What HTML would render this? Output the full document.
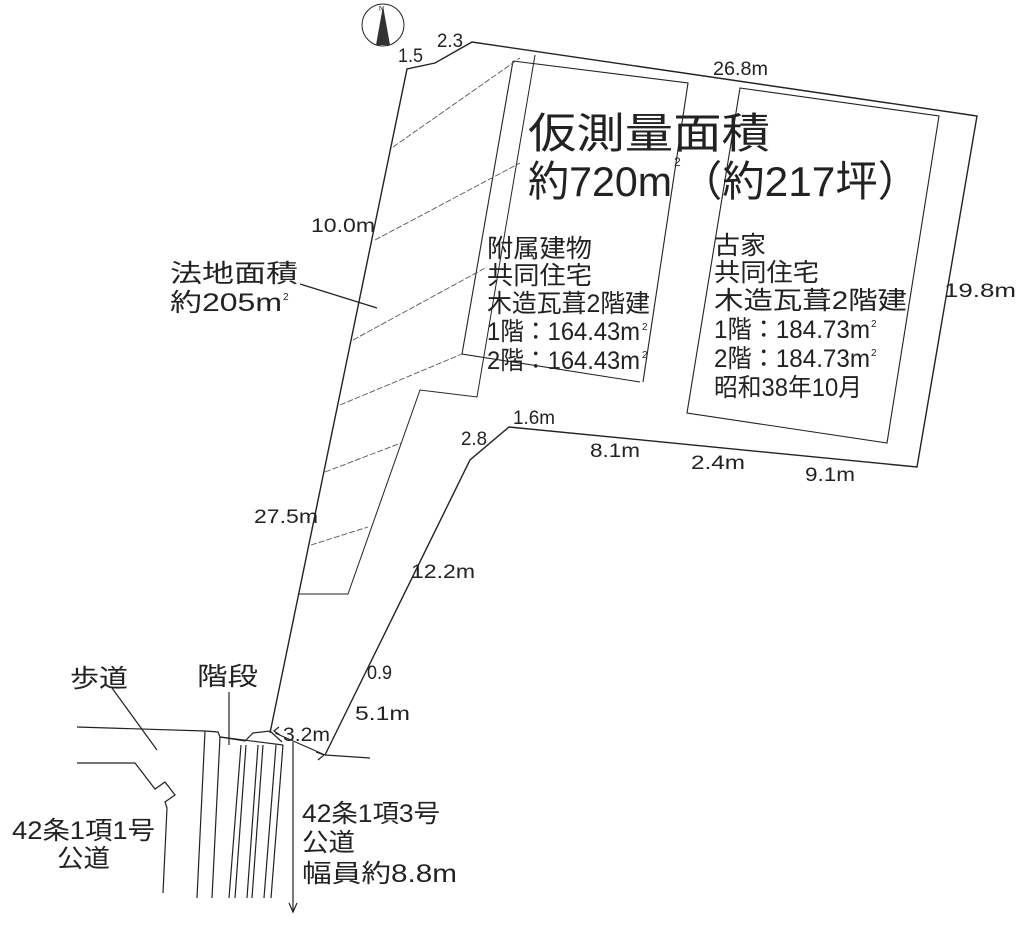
<!DOCTYPE html>
<html><head><meta charset="utf-8"><style>
html,body{margin:0;padding:0;background:#fff;}
svg{display:block;}
text{font-family:"Liberation Sans","Noto Sans CJK JP",sans-serif;fill:#222;}
</style></head><body>
<svg width="1024" height="925" viewBox="0 0 1024 925" xmlns="http://www.w3.org/2000/svg">
<g fill="none" stroke="#222" stroke-width="1.4">
<polyline points="270,733 407,69 435,63 472,42 977,116 917,467 509,427 470,460 325,755"/>
<polyline points="513,61 462,354 640,382" stroke-width="1.1"/>
<polyline points="513,61 688,83 643,382" stroke-width="1.1"/>
<polygon points="740,88 939,116 887,443 687,413" stroke-width="1.1"/>
<polyline points="535,55 477,397 420,390 348,594 299,594" stroke-width="1"/>
</g>
<g stroke="#555" stroke-width="0.9" stroke-dasharray="6,2" fill="none">
<line x1="393" y1="147" x2="520" y2="58"/>
<line x1="375" y1="240" x2="520" y2="163"/>
<line x1="353" y1="340" x2="487" y2="267"/>
<line x1="340" y1="405" x2="462" y2="354"/>
<line x1="325" y1="472" x2="401" y2="443"/>
<line x1="311" y1="545" x2="368" y2="527"/>
</g>
<g fill="none" stroke="#222" stroke-width="1.2">
<line x1="300" y1="284" x2="377" y2="308"/>
<line x1="112" y1="688" x2="157" y2="750"/>
<line x1="229" y1="692" x2="229" y2="745"/>
<line x1="325" y1="755" x2="370" y2="758"/>
<line x1="275" y1="733" x2="325" y2="755"/>
<polyline points="77,727 205,731 218,732 220,737 245,741 253,733 270,731 282,742"/>
<line x1="220" y1="737" x2="283" y2="745"/>
<polyline points="77,763 135,763 155,789 165,782 175,795 165,802 167,808 163,893"/>
<line x1="205" y1="731" x2="197" y2="898"/>
<line x1="220" y1="737" x2="212" y2="898"/>
<line x1="241" y1="745" x2="229" y2="898"/>
<line x1="246" y1="745" x2="235" y2="898"/>
<line x1="258" y1="745" x2="247" y2="898"/>
<line x1="263" y1="745" x2="252" y2="898"/>
<line x1="276" y1="745" x2="264" y2="898"/>
<line x1="283" y1="745" x2="271" y2="898"/>
<line x1="293" y1="742" x2="293" y2="912"/>
<polyline points="289,903 293,912 297,903"/>
<polyline points="279,727 274,731 280,735"/>
<polyline points="316,752 324,755 318,760"/>
<circle cx="383" cy="25" r="21" stroke-width="1"/>
</g>
<polygon points="383,6 376,45 390,45" fill="#333"/>
<text x="379" y="11" font-size="7">N</text>

<g font-size="19">
<text x="398" y="62" textLength="25" lengthAdjust="spacingAndGlyphs">1.5</text>
<text x="437" y="47" textLength="26" lengthAdjust="spacingAndGlyphs">2.3</text>
<text x="713" y="75" textLength="55" lengthAdjust="spacingAndGlyphs">26.8m</text>
<text x="311" y="232" textLength="64" lengthAdjust="spacingAndGlyphs">10.0m</text>
<text x="944" y="297" textLength="72" lengthAdjust="spacingAndGlyphs">19.8m</text>
<text x="513" y="424" textLength="42" lengthAdjust="spacingAndGlyphs">1.6m</text>
<text x="461" y="445" textLength="26" lengthAdjust="spacingAndGlyphs">2.8</text>
<text x="590" y="457" textLength="50" lengthAdjust="spacingAndGlyphs">8.1m</text>
<text x="691" y="469" textLength="54" lengthAdjust="spacingAndGlyphs">2.4m</text>
<text x="805" y="481" textLength="50" lengthAdjust="spacingAndGlyphs">9.1m</text>
<text x="254" y="523" textLength="64" lengthAdjust="spacingAndGlyphs">27.5m</text>
<text x="411" y="578" textLength="64" lengthAdjust="spacingAndGlyphs">12.2m</text>
<text x="367" y="679" textLength="25" lengthAdjust="spacingAndGlyphs">0.9</text>
<text x="355" y="720" textLength="55" lengthAdjust="spacingAndGlyphs">5.1m</text>
<text x="283" y="741" textLength="47" lengthAdjust="spacingAndGlyphs">3.2m</text>
</g>
<g font-size="42">
<text x="528" y="148" textLength="242" lengthAdjust="spacingAndGlyphs">仮測量面積</text>
<text x="528" y="196" textLength="144" lengthAdjust="spacingAndGlyphs">約720m</text>
<text x="680" y="196" textLength="240" lengthAdjust="spacingAndGlyphs">（約217坪）</text>
</g>
<text x="674" y="166" font-size="12">2</text>
<g font-size="25">
<text x="487" y="257" textLength="105" lengthAdjust="spacingAndGlyphs">附属建物</text>
<text x="487" y="284" textLength="105" lengthAdjust="spacingAndGlyphs">共同住宅</text>
<text x="487" y="312" textLength="163" lengthAdjust="spacingAndGlyphs">木造瓦葺2階建</text>
<text x="487" y="340" textLength="153" lengthAdjust="spacingAndGlyphs">1階：164.43m</text>
<text x="487" y="369" textLength="153" lengthAdjust="spacingAndGlyphs">2階：164.43m</text>
<text x="714" y="254" textLength="52" lengthAdjust="spacingAndGlyphs">古家</text>
<text x="714" y="281" textLength="105" lengthAdjust="spacingAndGlyphs">共同住宅</text>
<text x="714" y="309" textLength="193" lengthAdjust="spacingAndGlyphs">木造瓦葺2階建</text>
<text x="714" y="338" textLength="156" lengthAdjust="spacingAndGlyphs">1階：184.73m</text>
<text x="714" y="367" textLength="156" lengthAdjust="spacingAndGlyphs">2階：184.73m</text>
<text x="714" y="396" textLength="148" lengthAdjust="spacingAndGlyphs">昭和38年10月</text>
<text x="170" y="282" textLength="128" lengthAdjust="spacingAndGlyphs">法地面積</text>
<text x="170" y="311" textLength="112" lengthAdjust="spacingAndGlyphs">約205m</text>
<text x="70" y="687" textLength="58" lengthAdjust="spacingAndGlyphs">歩道</text>
<text x="197" y="685" textLength="61" lengthAdjust="spacingAndGlyphs">階段</text>
<text x="12" y="839" textLength="143" lengthAdjust="spacingAndGlyphs">42条1項1号</text>
<text x="57" y="867" textLength="53" lengthAdjust="spacingAndGlyphs">公道</text>
<text x="302" y="822" textLength="138" lengthAdjust="spacingAndGlyphs">42条1項3号</text>
<text x="302" y="851" textLength="53" lengthAdjust="spacingAndGlyphs">公道</text>
<text x="302" y="882" textLength="155" lengthAdjust="spacingAndGlyphs">幅員約8.8m</text>
</g>
<g font-size="10">
<text x="642" y="330">2</text>
<text x="642" y="358">2</text>
<text x="871" y="327">2</text>
<text x="871" y="356">2</text>
<text x="283" y="300">2</text>
</g>
</svg>
</body></html>
